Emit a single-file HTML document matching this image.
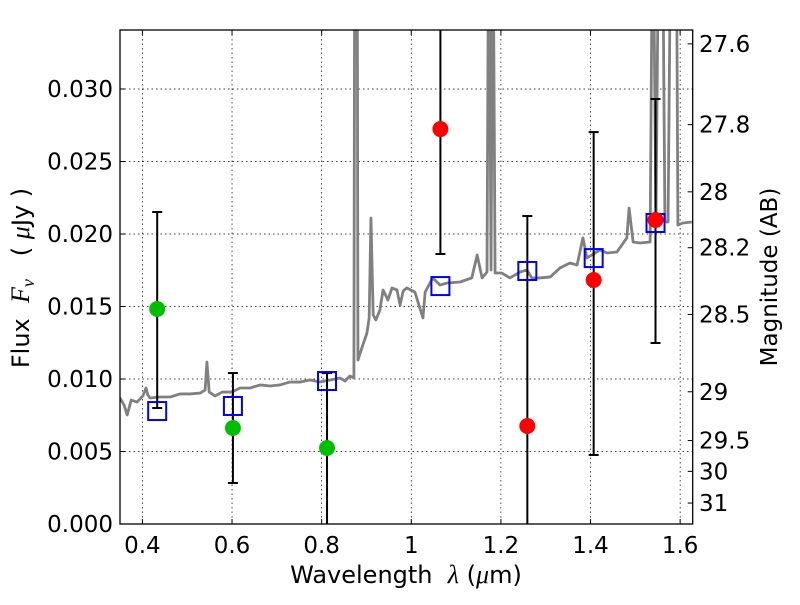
<!DOCTYPE html>
<html><head><meta charset="utf-8"><style>
body{margin:0;background:#fff;}
svg text{font-family:"DejaVu Sans","Liberation Sans",sans-serif;fill:#000;}
.m{font-family:"Liberation Serif","DejaVu Serif",serif;font-style:italic;}
</style></head><body>
<svg id="chart" width="800" height="600" xmlns="http://www.w3.org/2000/svg">
<defs><clipPath id="clip"><rect x="120" y="30" width="572.7" height="494"/></clipPath></defs>
<g id="grid"></g>
<g id="plot" clip-path="url(#clip)"></g>
<rect x="120" y="30" width="572.7" height="494" fill="none" stroke="#000" stroke-width="1.3"/>
<g id="axes"></g>
<text x="406" y="583" font-size="24" text-anchor="middle" xml:space="preserve">Wavelength  <tspan class="m" font-size="26">λ</tspan> (<tspan class="m" font-size="26">μ</tspan>m)</text>
<text transform="translate(29,278) rotate(-90)" font-size="24" text-anchor="middle" xml:space="preserve">Flux  <tspan class="m" font-size="26">F</tspan><tspan class="m" font-size="18" dy="5">ν</tspan><tspan dy="-5">   ( </tspan><tspan class="m" font-size="26">μ</tspan>Jy )</text>
<text transform="translate(777,277) rotate(-90)" font-size="23" text-anchor="middle">Magnitude (AB)</text>
</svg>
<script>
const xTicks=[0.4,0.6,0.8,1.0,1.2,1.4,1.6];
const xTickLabels=["0.4","0.6","0.8","1","1.2","1.4","1.6"];
const yTicks=[0,0.005,0.01,0.015,0.02,0.025,0.03];
const yTickLabels=["0.000","0.005","0.010","0.015","0.020","0.025","0.030"];
const magTicks=[27.6,27.8,28,28.2,28.5,29,29.5,30,31];
const magTickLabels=["27.6","27.8","28","28.2","28.5","29","29.5","30","31"];
const specWave=[
0.350,0.359,0.366,0.375,0.388,0.401,0.408,0.412,0.417,0.439,
0.462,0.484,0.506,0.529,0.540,0.544,0.549,0.562,0.578,0.600,
0.618,0.640,0.663,0.685,0.707,0.729,0.752,0.774,0.796,0.819,
0.841,0.852,0.863,0.872,0.874,0.879,0.881,0.892,0.901,0.906,
0.910,0.915,0.921,0.930,0.937,0.948,0.957,0.968,0.975,0.982,
0.990,1.008,1.026,1.031,1.048,1.064,1.080,1.109,1.135,1.147,
1.158,1.169,1.173,1.178,1.182,1.187,1.202,1.220,1.243,1.258,
1.269,1.287,1.310,1.332,1.354,1.370,1.383,1.392,1.421,1.437,
1.459,1.481,1.486,1.495,1.510,1.533,1.539,1.546,1.553,1.560,
1.566,1.573,1.580,1.591,1.595,1.606,1.626];
const specFlux=[
0.00869,0.00821,0.00752,0.00855,0.00841,0.00883,0.00938,0.00890,0.00869,0.00876,
0.00876,0.00897,0.00897,0.00903,0.00924,0.01117,0.00910,0.00883,0.00910,0.00910,
0.00938,0.00938,0.00959,0.00952,0.00959,0.00979,0.00979,0.00993,0.00979,0.00993,
0.01007,0.00986,0.01021,0.01007,0.0450,0.0450,0.01131,0.01235,0.01317,0.01421,
0.02110,0.01441,0.01407,0.01476,0.01614,0.01545,0.01628,0.01614,0.01510,0.01607,
0.01628,0.01600,0.01421,0.01600,0.01697,0.01648,0.01662,0.01669,0.01697,0.01855,
0.01697,0.01738,0.0450,0.01752,0.0450,0.01731,0.01731,0.01697,0.01738,0.01752,
0.01697,0.01697,0.01704,0.01766,0.01800,0.01786,0.01973,0.01835,0.01890,0.01869,
0.01876,0.01973,0.02179,0.01945,0.01938,0.01945,0.0450,0.02083,0.0450,0.0450,
0.02083,0.02083,0.0450,0.0450,0.02062,0.02076,0.02083];
const photWave=[0.433,0.602,0.812,1.065,1.259,1.407,1.545];
const photFlux=[0.01483,0.00662,0.00524,0.02724,0.00676,0.01683,0.02097];
const photColor=["#00bf00","#00bf00","#00bf00","#ff0000","#ff0000","#ff0000","#ff0000"];
const errLow=[0.0080,0.00283,-0.002,0.01862,-0.002,0.00476,0.01248];
const errHigh=[0.02152,0.01041,0.01041,0.040,0.02124,0.02703,0.02931];
const modelFlux=[0.00779,0.00814,0.00986,0.01641,0.01745,0.01834,0.02076];

const X0=120,X1=692.7,Y0=524,Y1=30;
const xmin=0.35,xmax=1.628,ymin=0,ymax=0.03407;
const sx=v=>X0+(v-xmin)/(xmax-xmin)*(X1-X0);
const sy=v=>Y0-(v-ymin)/(ymax-ymin)*(Y0-Y1);
const magToFlux=m=>Math.pow(10,(23.9-m)/2.5);
const NS="http://www.w3.org/2000/svg";
function mk(tag,attrs,parent){const e=document.createElementNS(NS,tag);for(const k in attrs)e.setAttribute(k,attrs[k]);parent.appendChild(e);return e;}
const grid=document.getElementById('grid'),plot=document.getElementById('plot'),axes=document.getElementById('axes');

xTicks.forEach((t,i)=>{const x=sx(t);
 const g=mk('line',{x1:x,x2:x,y1:Y1,y2:Y0,stroke:'#000','stroke-width':0.7,'stroke-dasharray':'1.5,3'},grid);
 
 
 const tk=mk('line',{x1:x,x2:x,y1:Y0,y2:Y0-5,stroke:'#000'},axes);
 
 
 const tk2=mk('line',{x1:x,x2:x,y1:Y1,y2:Y1+5,stroke:'#000'},axes);
 
 
 const tx=mk('text',{x:x,y:553,'font-size':23,'text-anchor':'middle'},axes);tx.textContent=xTickLabels[i];
 
 });
yTicks.forEach((t,i)=>{const y=sy(t);
 const g=mk('line',{x1:X0,x2:X1,y1:y,y2:y,stroke:'#000','stroke-width':0.7,'stroke-dasharray':'1.5,3'},grid);
 
 
 const tk=mk('line',{x1:X0,x2:X0+5,y1:y,y2:y,stroke:'#000'},axes);
 
 
 const tx=mk('text',{x:113,y:y+8,'font-size':23,'text-anchor':'end'},axes);tx.textContent=yTickLabels[i];
 
 });
magTicks.forEach((m,i)=>{const y=sy(magToFlux(m));
 const tk=mk('line',{x1:X1,x2:X1-5,y1:y,y2:y,stroke:'#000'},axes);
 
 
 const tx=mk('text',{x:699,y:y+8,'font-size':23},axes);tx.textContent=magTickLabels[i];
 
 });

const sp=mk('polyline',{points:specWave.map((v,i)=>sx(v)+','+sy(specFlux[i])).join(' '),fill:'none',stroke:'#808080','stroke-width':2.8,'stroke-linejoin':'round'},plot);



photWave.forEach((w,i)=>{const x=sx(w);
 const e=mk('line',{x1:x,x2:x,y1:sy(errLow[i]),y2:sy(errHigh[i]),stroke:'#000','stroke-width':2},plot);
 
 
 [errLow[i],errHigh[i]].forEach(v=>{const c=mk('line',{x1:x-5,x2:x+5,y1:sy(v),y2:sy(v),stroke:'#000','stroke-width':2},plot);
  
  });
 const s=mk('rect',{x:x-9,y:sy(modelFlux[i])-9,width:18,height:18,fill:'none',stroke:'#0000ff','stroke-width':2},plot);
 
 
 const d=mk('circle',{cx:x,cy:sy(photFlux[i]),r:8,fill:photColor[i]},plot);
 
 });
</script>
</body></html>
